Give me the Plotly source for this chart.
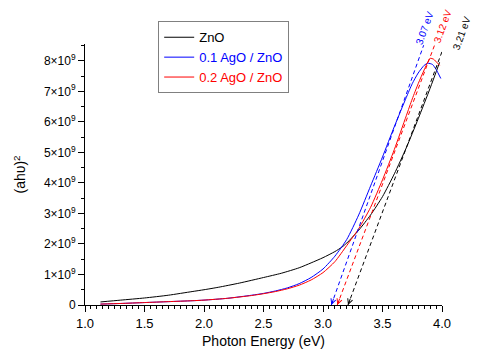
import plotly.graph_objects as go

# ── Data ──────────────────────────────────────────────────────────────────────
ENERGY_ZNO = [1.13, 1.3, 1.5, 1.7, 1.9, 2.0, 2.12, 2.3, 2.5, 2.65, 2.8, 2.9, 3.0,
              3.1, 3.16, 3.2, 3.3, 3.4, 3.5, 3.6, 3.7, 3.8, 3.9, 3.98]
ZNO        = [0.10, 0.16, 0.23, 0.32, 0.44, 0.50, 0.58, 0.72, 0.90, 1.04, 1.22, 1.38, 1.55,
              1.75, 1.90, 2.03, 2.45, 2.95, 3.55, 4.30, 5.15, 6.10, 7.10, 7.95]

ENERGY_AG1 = [1.13, 1.3, 1.5, 1.7, 1.9, 2.0, 2.2, 2.4, 2.5, 2.6, 2.7, 2.8, 2.9, 3.0,
              3.1, 3.2, 3.3, 3.4, 3.5, 3.6, 3.7, 3.75, 3.8, 3.85, 3.88, 3.92, 3.95, 3.99]
AG1        = [0.03, 0.05, 0.08, 0.11, 0.14, 0.16, 0.22, 0.32, 0.38, 0.46, 0.56, 0.70, 0.90, 1.18,
              1.60, 2.15, 2.95, 3.90, 4.85, 5.85, 6.80, 7.25, 7.60, 7.85, 7.92, 7.88, 7.72, 7.42]

ENERGY_AG2 = [1.13, 1.3, 1.5, 1.7, 1.9, 2.0, 2.2, 2.4, 2.5, 2.6, 2.7, 2.8, 2.9, 3.0,
              3.1, 3.2, 3.3, 3.4, 3.5, 3.6, 3.7, 3.75, 3.8, 3.85, 3.9, 3.93, 3.96, 3.98]
AG2        = [0.03, 0.05, 0.08, 0.11, 0.14, 0.16, 0.22, 0.31, 0.37, 0.44, 0.53, 0.65, 0.82, 1.06,
              1.42, 1.95, 2.50, 3.20, 4.10, 5.10, 6.20, 6.75, 7.25, 7.70, 8.08, 8.05, 7.93, 7.85]

# tangent fits: x-intercept (band gap) and top end point
GAPS       = [3.21, 3.07, 3.12]
FIT_TOP_X  = [4.00, 3.846, 3.946]
FIT_TOP_Y  = [8.30, 8.51, 8.60]
GAP_LABELS = ["3.21 eV", "3.07 eV", "3.12 eV"]

NAMES  = ["ZnO", "0.1 AgO / ZnO", "0.2 AgO / ZnO"]
COLORS = ["#000000", "#0000ff", "#ff0000"]

Y_TICKS     = [0, 1, 2, 3, 4, 5, 6, 7, 8]
Y_TICK_TEXT = ["0"] + [f"{v}×10<sup>9</sup>" for v in Y_TICKS[1:]]

SCALE = 1e9
FONT  = "Liberation Sans, Arial, sans-serif"

# gap label centres, paper coords (layout only)
LABEL_X = [1.054, 0.950, 1.001]
LABEL_Y = [1.042, 1.061, 1.068]

fig = go.Figure()

for xs, ys, name, color in zip([ENERGY_ZNO, ENERGY_AG1, ENERGY_AG2], [ZNO, AG1, AG2], NAMES, COLORS):
    fig.add_trace(go.Scatter(
        x=xs, y=[v * SCALE for v in ys],
        mode="lines", line=dict(color=color, width=1, shape="spline", smoothing=0.6),
        name=f"<span style='color:{color}'>{name}</span>",
    ))

for gap, tx, ty, color in zip(GAPS, FIT_TOP_X, FIT_TOP_Y, COLORS):
    fig.add_trace(go.Scatter(
        x=[gap, tx], y=[0, ty * SCALE],
        mode="lines", line=dict(color=color, width=1, dash="4px,3px"),
        showlegend=False, hoverinfo="skip",
    ))

annotations = []
for gap, tx, ty, color, lbl, lx, ly in zip(GAPS, FIT_TOP_X, FIT_TOP_Y, COLORS, GAP_LABELS, LABEL_X, LABEL_Y):
    # direction of the fit line in pixels (approx 120 px/eV, 30.9 px per 1e9)
    dx = (tx - gap) * 120
    dy = ty * 30.9
    n = (dx ** 2 + dy ** 2) ** 0.5
    annotations.append(dict(
        x=gap, y=0, xref="x", yref="y", text="", showarrow=True,
        ax=dx / n * 8, ay=-dy / n * 8, arrowhead=5, arrowsize=1.0,
        arrowwidth=1, arrowcolor=color, standoff=0,
    ))
    annotations.append(dict(
        x=lx, y=ly, xref="paper", yref="paper", text=lbl, showarrow=False,
        xanchor="center", yanchor="middle",
        textangle=-70, font=dict(size=10, color=color, family=FONT),
    ))

# page body adds an 8px offset, so the figure is 8px smaller on each axis
fig.update_layout(
    width=472, height=350,
    margin=dict(l=74, r=38, t=36, b=50),
    plot_bgcolor="white", paper_bgcolor="white",
    font=dict(family=FONT, color="#000000", size=12),
    showlegend=True,
    legend=dict(
        x=0.205, y=1.087, xanchor="left", yanchor="top",
        bgcolor="white", bordercolor="#808080", borderwidth=1,
        font=dict(size=13, family=FONT), tracegroupgap=0,
    ),
    annotations=annotations,
)

fig.update_xaxes(
    range=[1.0, 4.0], dtick=0.5, tick0=1.0, tickformat=".1f",
    showline=True, linecolor="black", linewidth=1,
    ticks="outside", ticklen=6, tickcolor="black",
    minor=dict(dtick=0.05, ticks="outside", ticklen=3, tickcolor="black"),
    showgrid=False, zeroline=False, mirror=False,
    tickfont=dict(size=13),
    title=dict(text="Photon Energy (eV)", font=dict(size=14), standoff=6),
)
fig.update_yaxes(
    range=[0, 8.55e9],
    tickvals=[v * SCALE for v in Y_TICKS], ticktext=Y_TICK_TEXT,
    showline=True, linecolor="black", linewidth=1,
    ticks="outside", ticklen=6, tickcolor="black",
    minor=dict(dtick=0.5e9, tick0=0, ticks="outside", ticklen=3, tickcolor="black"),
    showgrid=False, zeroline=False, mirror=False,
    tickfont=dict(size=12),
    title=dict(text="(ahυ)<sup>2</sup>", font=dict(size=14), standoff=14),
)

fig.write_html("out.html")
